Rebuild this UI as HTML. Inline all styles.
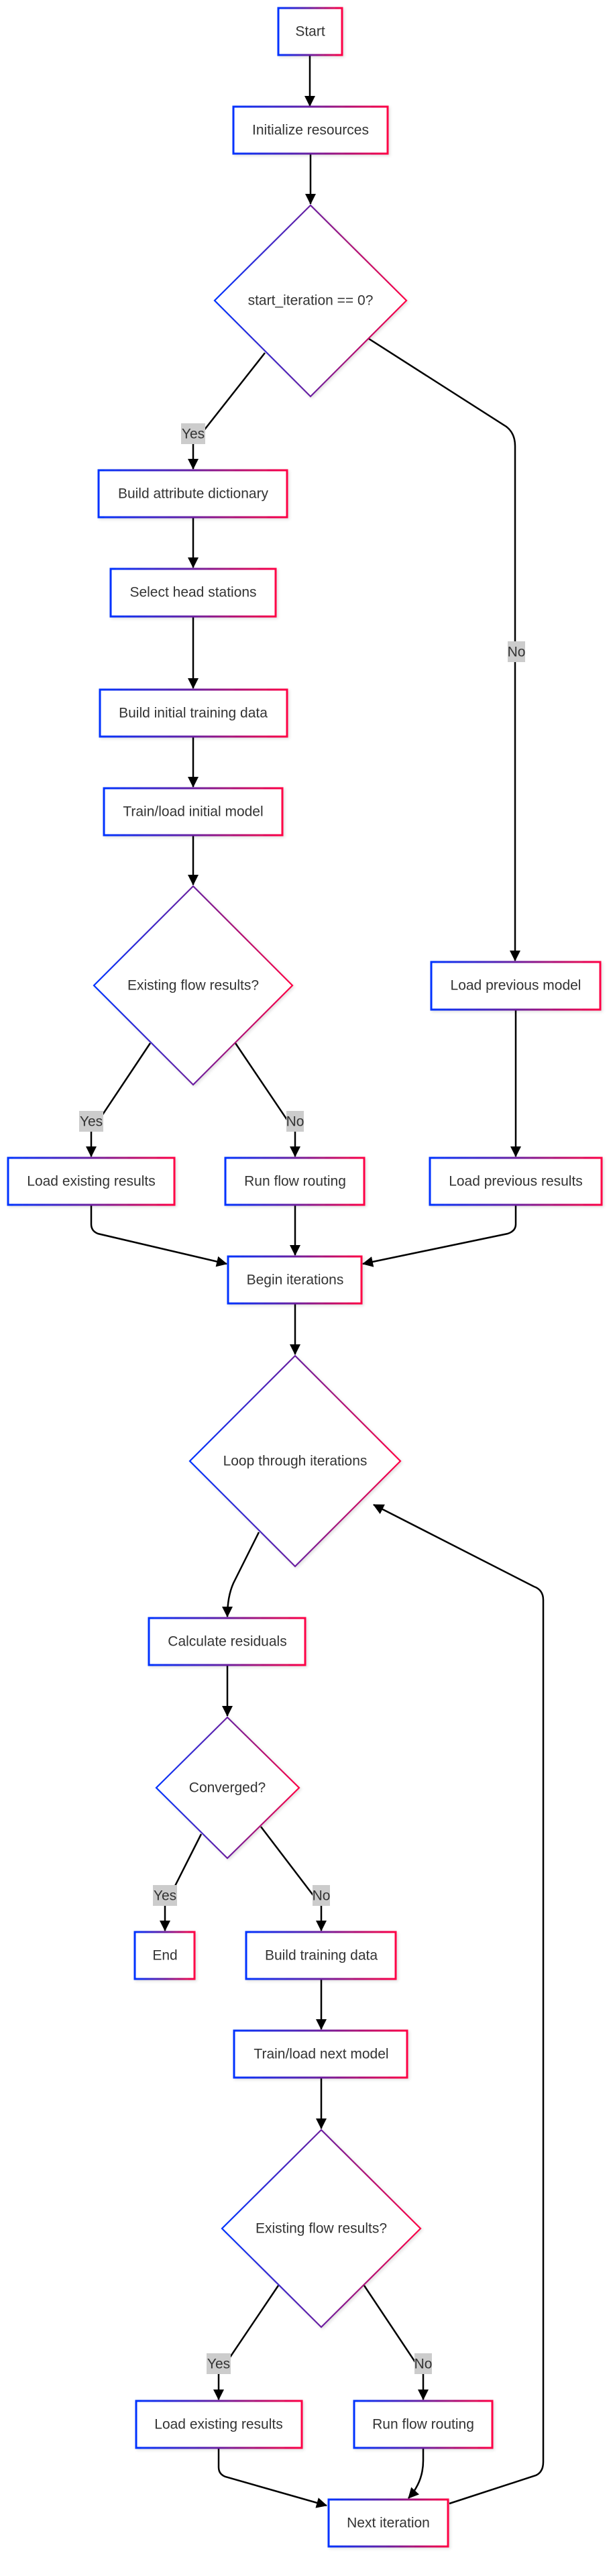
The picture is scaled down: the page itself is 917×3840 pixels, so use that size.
<!DOCTYPE html>
<html><head><meta charset="utf-8"><style>
html,body{margin:0;padding:0;background:#fff;}
svg{display:block;}
text{font-family:"Liberation Sans",Arial,sans-serif;fill:#333;font-size:21px;}
</style></head><body>
<svg width="917" height="3840" viewBox="0 0 917 3840" xmlns="http://www.w3.org/2000/svg">
<defs>
<linearGradient id="g" x1="0" y1="0" x2="1" y2="0">
<stop offset="0" stop-color="#0033ff"/><stop offset="0.5" stop-color="#6a1fa0"/><stop offset="1" stop-color="#ff0044"/>
</linearGradient>
<marker id="a" markerUnits="userSpaceOnUse" markerWidth="18" markerHeight="18" refX="15" refY="8" orient="auto">
<path d="M0,0 L16,8 L0,16 z" fill="#000"/>
</marker>
<filter id="s" x="-10%" y="-10%" width="130%" height="130%"><feDropShadow dx="2" dy="2" stdDeviation="2" flood-color="#000" flood-opacity="0.12"/></filter>
</defs>
<g fill="none" stroke="#000" stroke-width="2.5" marker-end="url(#a)">
<path d="M462,83 V158"/>
<path d="M463,229 V304"/>
<path d="M395,526 L288,662 V699"/>
<path d="M550,505 L755,636 Q768,646 768,665 V1432"/>
<path d="M288,771 V846"/>
<path d="M288,919 V1026"/>
<path d="M288,1098 V1173"/>
<path d="M288,1245 V1319"/>
<path d="M224,1555 L136,1687 V1724"/>
<path d="M351,1555 L440,1687 V1724"/>
<path d="M769,1505 V1724"/>
<path d="M136,1796 V1825 Q136,1835 146,1839 L338,1884"/>
<path d="M440,1796 V1871"/>
<path d="M769,1796 V1825 Q769,1835 757,1839 L541,1884"/>
<path d="M440,1943 V2019"/>
<path d="M386,2284 L348,2360 Q339,2380 339,2410"/>
<path d="M339,2482 V2558"/>
<path d="M300,2734 L246,2841 V2878"/>
<path d="M389,2723 L479,2841 V2878"/>
<path d="M479,2950 V3025"/>
<path d="M479,3097 V3173"/>
<path d="M415,3407 L326,3539 V3577"/>
<path d="M543,3407 L631,3539 V3577"/>
<path d="M326,3649 V3678 Q326,3688 336,3692 L487,3735"/>
<path d="M631,3649 V3668 Q631,3700 609,3724"/>
<path d="M670,3732 L799,3690 Q810,3685 810,3670 V2385 Q810,2370 796,2365 L557,2243"/>
</g>
<g fill="#fff" stroke="url(#g)" stroke-width="3" filter="url(#s)">
<rect x="415" y="12" width="95" height="70"/>
<rect x="348" y="159" width="230" height="70"/>
<rect x="147" y="701" width="281" height="70"/>
<rect x="165" y="848" width="246" height="71"/>
<rect x="149" y="1028" width="279" height="70"/>
<rect x="155" y="1175" width="266" height="70"/>
<rect x="643" y="1434" width="252" height="71"/>
<rect x="12" y="1726" width="248" height="70"/>
<rect x="336" y="1726" width="207" height="70"/>
<rect x="641" y="1726" width="256" height="70"/>
<rect x="340" y="1873" width="199" height="70"/>
<rect x="222" y="2412" width="233" height="70"/>
<rect x="201" y="2880" width="89" height="70"/>
<rect x="367" y="2880" width="223" height="70"/>
<rect x="349" y="3027" width="258" height="70"/>
<rect x="203" y="3579" width="247" height="70"/>
<rect x="528" y="3579" width="206" height="70"/>
<rect x="490" y="3726" width="178" height="70"/>
</g>
<g fill="#fff" stroke="url(#g)" stroke-width="2.2" filter="url(#s)">
<polygon points="463,306 606,448 463,591 320,448"/>
<polygon points="288,1321 436,1469 288,1617 140,1469"/>
<polygon points="440,2021 597,2178 440,2335 283,2178"/>
<polygon points="339,2560 446,2665 339,2770 233,2665"/>
<polygon points="479,3175 627,3322 479,3469 331,3322"/>
</g>
<g fill="#cccccc">
<rect x="270" y="631" width="36" height="31"/>
<rect x="757" y="956" width="26" height="31"/>
<rect x="118" y="1656" width="36" height="31"/>
<rect x="427" y="1656" width="26" height="31"/>
<rect x="228" y="2810" width="36" height="31"/>
<rect x="466" y="2810" width="26" height="31"/>
<rect x="308" y="3508" width="36" height="31"/>
<rect x="618" y="3508" width="26" height="31"/>
</g>
<g text-anchor="middle" dominant-baseline="central">
<text x="462.5" y="47">Start</text>
<text x="463" y="194">Initialize resources</text>
<text x="463" y="448">start_iteration == 0?</text>
<text x="288" y="736">Build attribute dictionary</text>
<text x="288" y="883">Select head stations</text>
<text x="288" y="1063">Build initial training data</text>
<text x="288" y="1210">Train/load initial model</text>
<text x="288" y="1469">Existing flow results?</text>
<text x="769" y="1469">Load previous model</text>
<text x="136" y="1761">Load existing results</text>
<text x="440" y="1761">Run flow routing</text>
<text x="769" y="1761">Load previous results</text>
<text x="440" y="1908">Begin iterations</text>
<text x="440" y="2178">Loop through iterations</text>
<text x="339" y="2447">Calculate residuals</text>
<text x="339" y="2665">Converged?</text>
<text x="246" y="2915">End</text>
<text x="479" y="2915">Build training data</text>
<text x="479" y="3062">Train/load next model</text>
<text x="479" y="3322">Existing flow results?</text>
<text x="326" y="3614">Load existing results</text>
<text x="631" y="3614">Run flow routing</text>
<text x="579" y="3761">Next iteration</text>
<text x="288" y="647">Yes</text>
<text x="770" y="972">No</text>
<text x="136" y="1672">Yes</text>
<text x="440" y="1672">No</text>
<text x="246" y="2826">Yes</text>
<text x="479" y="2826">No</text>
<text x="326" y="3524">Yes</text>
<text x="631" y="3524">No</text>
</g>
</svg>
</body></html>
